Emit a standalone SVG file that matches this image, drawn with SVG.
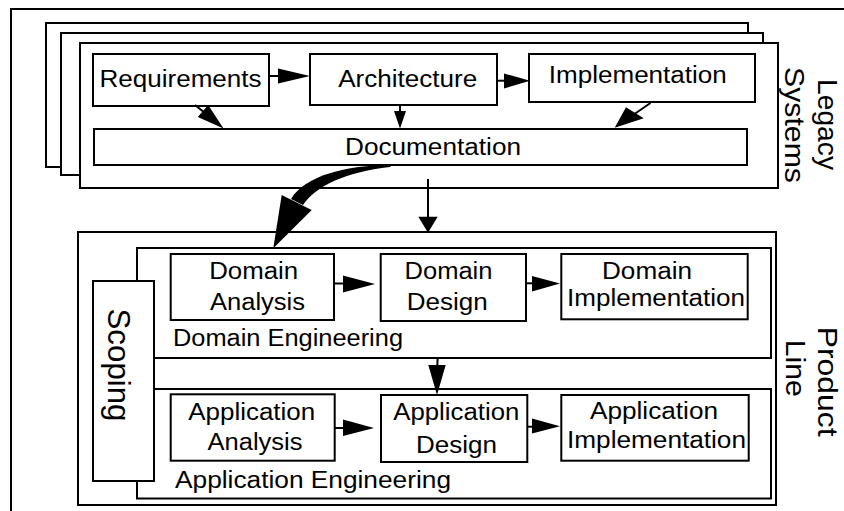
<svg xmlns="http://www.w3.org/2000/svg" width="844" height="511" viewBox="0 0 844 511">
<style>
.box{fill:#fff;stroke:#000;stroke-width:2}
.frame{fill:none;stroke:#000;stroke-width:2}
.ln{fill:none;stroke:#000;stroke-width:2}
.hd{fill:#000;stroke:none}
.t{font-family:"Liberation Sans",Arial,sans-serif;font-size:23.5px;fill:#000;text-anchor:middle}
.ts{font-family:"Liberation Sans",Arial,sans-serif;font-size:23.5px;fill:#000;text-anchor:start}
.r{font-family:"Liberation Sans",Arial,sans-serif;font-size:28px;fill:#000;text-anchor:middle}
</style>
<rect width="844" height="511" fill="#fff"/>
<rect class="frame" x="11" y="9" width="850" height="520"/>

<g id="legacy-systems">
  <rect class="box" x="46" y="23" width="702" height="144"/>
  <rect class="box" x="61" y="33" width="702" height="142"/>
  <rect class="box" x="80" y="43" width="698" height="145"/>
  <text class="r" transform="translate(818,124.5) rotate(90)" textLength="91" lengthAdjust="spacingAndGlyphs">Legacy</text>
  <text class="r" transform="translate(785,125) rotate(90)" textLength="116" lengthAdjust="spacingAndGlyphs">Systems</text>
</g>
<g id="requirements">
  <rect class="box" x="93" y="54" width="176" height="52"/>
  <text class="t" x="180.5" y="87" textLength="162" lengthAdjust="spacingAndGlyphs">Requirements</text>
</g>
<g id="architecture">
  <rect class="box" x="310" y="54" width="187" height="51"/>
  <text class="t" x="407.7" y="87" textLength="139" lengthAdjust="spacingAndGlyphs">Architecture</text>
</g>
<g id="implementation">
  <rect class="box" x="529" y="54" width="226" height="48"/>
  <text class="t" x="637.8" y="83" textLength="178" lengthAdjust="spacingAndGlyphs">Implementation</text>
</g>
<g id="documentation">
  <rect class="box" x="94" y="129" width="653" height="36"/>
  <text class="t" x="433" y="155" textLength="176" lengthAdjust="spacingAndGlyphs">Documentation</text>
</g>

<g id="product-line">
  <rect class="box" x="78" y="232" width="698" height="273"/>
  <text class="r" transform="translate(818,381.7) rotate(90)" textLength="110" lengthAdjust="spacingAndGlyphs">Product</text>
  <text class="r" transform="translate(786,368.3) rotate(90)" textLength="57" lengthAdjust="spacingAndGlyphs">Line</text>
</g>
<g id="domain-engineering">
  <rect class="box" x="137" y="248" width="634" height="110"/>
  <text class="ts" x="173" y="345.7" textLength="230" lengthAdjust="spacingAndGlyphs">Domain Engineering</text>
</g>
<g id="application-engineering">
  <rect class="box" x="137" y="389" width="634" height="109.5"/>
  <text class="ts" x="175" y="488.3" textLength="276" lengthAdjust="spacingAndGlyphs">Application Engineering</text>
</g>
<g id="scoping">
  <rect class="box" x="93" y="281" width="61" height="200"/>
  <text class="r" style="font-size:31px" transform="translate(108,365) rotate(90)" textLength="113" lengthAdjust="spacingAndGlyphs">Scoping</text>
</g>
<g id="domain-analysis">
  <rect class="box" x="170.7" y="254" width="163.3" height="66"/>
  <text class="t" x="253.7" y="278.5" textLength="89" lengthAdjust="spacingAndGlyphs">Domain</text>
  <text class="t" x="257.5" y="310" textLength="95" lengthAdjust="spacingAndGlyphs">Analysis</text>
</g>
<g id="domain-design">
  <rect class="box" x="380.7" y="254" width="145.3" height="67"/>
  <text class="t" x="448.5" y="279" textLength="88" lengthAdjust="spacingAndGlyphs">Domain</text>
  <text class="t" x="447.2" y="310" textLength="81" lengthAdjust="spacingAndGlyphs">Design</text>
</g>
<g id="domain-implementation">
  <rect class="box" x="561.3" y="254" width="186.4" height="65.3"/>
  <text class="t" x="647" y="279" textLength="90" lengthAdjust="spacingAndGlyphs">Domain</text>
  <text class="t" x="656" y="306" textLength="178" lengthAdjust="spacingAndGlyphs">Implementation</text>
</g>
<g id="application-analysis">
  <rect class="box" x="170.7" y="394.3" width="164" height="66.4"/>
  <text class="t" x="251.7" y="420" textLength="127" lengthAdjust="spacingAndGlyphs">Application</text>
  <text class="t" x="255" y="450" textLength="95" lengthAdjust="spacingAndGlyphs">Analysis</text>
</g>
<g id="application-design">
  <rect class="box" x="381" y="395" width="146.3" height="67"/>
  <text class="t" x="456.3" y="420" textLength="126" lengthAdjust="spacingAndGlyphs">Application</text>
  <text class="t" x="456.5" y="453" textLength="81" lengthAdjust="spacingAndGlyphs">Design</text>
</g>
<g id="application-implementation">
  <rect class="box" x="561.3" y="395" width="187.4" height="65.7"/>
  <text class="t" x="654" y="418.5" textLength="128" lengthAdjust="spacingAndGlyphs">Application</text>
  <text class="t" x="656.5" y="448.3" textLength="179" lengthAdjust="spacingAndGlyphs">Implementation</text>
</g>

<g id="connectors">
  <!-- Requirements -> Architecture -->
  <line class="ln" x1="269" y1="76" x2="280" y2="76"/>
  <polygon class="hd" points="278,68.5 310,76 278,83.5"/>
  <!-- Architecture -> Implementation -->
  <line class="ln" x1="497" y1="80.7" x2="506" y2="80.7"/>
  <polygon class="hd" points="504,73.5 530,80.7 504,88.5"/>
  <!-- Requirements -> Documentation -->
  <line class="ln" x1="195" y1="105" x2="205" y2="113"/>
  <polygon class="hd" points="197.8,117.1 208.2,104.9 223.5,128.5"/>
  <!-- Architecture -> Documentation -->
  <line class="ln" x1="400" y1="105" x2="400" y2="113"/>
  <polygon class="hd" points="394,111 406,111 400,128.5"/>
  <!-- Implementation -> Documentation -->
  <line class="ln" x1="650.5" y1="103" x2="633" y2="115"/>
  <polygon class="hd" points="626,107.3 643.7,118.3 614.7,127.7"/>
  <!-- Documentation -> Domain Engineering (curved, bold) -->
  <path class="hd" d="M 392,165 C 345,165 305,176 291,199 L 303,205 C 316,186 345,172 390,167 Z"/>
  <polygon class="hd" points="281.7,195 311.7,210 273.3,248.3"/>
  <!-- Legacy Systems -> Product Line -->
  <line class="ln" x1="428" y1="179" x2="428" y2="218"/>
  <polygon class="hd" points="418.3,216.7 437.7,216.7 428,232.7"/>
  <!-- Domain Analysis -> Domain Design -->
  <line class="ln" x1="334" y1="283.5" x2="345" y2="283.5"/>
  <polygon class="hd" points="343,275.5 375,284 343,292.5"/>
  <!-- Domain Design -> Domain Implementation -->
  <line class="ln" x1="526" y1="283.3" x2="534" y2="283.3"/>
  <polygon class="hd" points="532,276 560,283.5 532,291.5"/>
  <!-- Domain Engineering -> Application Design -->
  <line class="ln" x1="437.7" y1="357.7" x2="437.2" y2="367"/>
  <polygon class="hd" points="428.3,365 445.7,365 437,395"/>
  <!-- Application Analysis -> Application Design -->
  <line class="ln" x1="334.7" y1="428" x2="345" y2="428"/>
  <polygon class="hd" points="343,419.5 374,428 343,436"/>
  <!-- Application Design -> Application Implementation -->
  <line class="ln" x1="527.3" y1="426.7" x2="534" y2="426.7"/>
  <polygon class="hd" points="532,418.5 560,426.3 532,433.5"/>
</g>
</svg>
